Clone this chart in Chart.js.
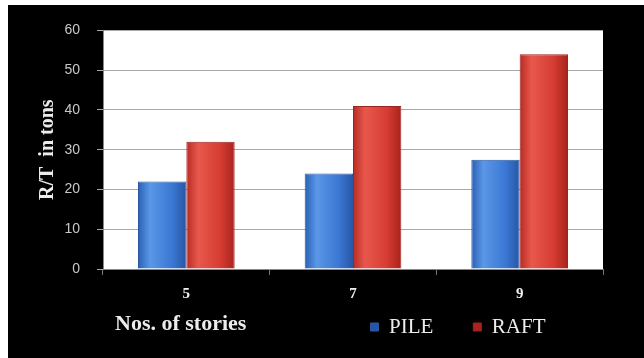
<!DOCTYPE html>
<html>
<head>
<meta charset="utf-8">
<script src="https://cdn.jsdelivr.net/npm/chart.js@4"></script>
<style>
  html, body { margin: 0; padding: 0; background: #fff; }
  #wrap { position: absolute; left: 8px; top: 5px; width: 636px; height: 353px; background: #000; }
</style>
</head>
<body>
<div id="wrap"><canvas id="storyChart"></canvas></div>
<script>
var stories = ['5', '7', '9'];
var pileValues = [22, 24, 27.5];
var raftValues = [32, 41, 54];
var yTicks = [0, 10, 20, 30, 40, 50, 60];

var serif = "Liberation Serif";
var legendFontSize = 21;

Chart.defaults.font.family = serif;

// left-to-right shading so the bars look rounded
function shade(stops) {
    return function (c) {
        var el = c.element;
        if (!el || !el.width) return stops[1];
        var g = c.chart.ctx.createLinearGradient(el.x - el.width / 2, 0, el.x + el.width / 2, 0);
        g.addColorStop(0, stops[0]);
        g.addColorStop(0.25, stops[1]);
        g.addColorStop(0.7, stops[2]);
        g.addColorStop(1, stops[3]);
        return g;
    };
}

var plotBackground = {
    id: 'plotBackground',
    beforeDraw: function (chart) {
        var a = chart.chartArea, ctx = chart.ctx;
        ctx.save();
        ctx.fillStyle = '#ffffff';
        ctx.fillRect(a.left, a.top, a.right - a.left, a.bottom - a.top);
        ctx.restore();
    }
};

// axis caption sits on the same row as the legend, near the left
var storyCaption = {
    id: 'storyCaption',
    afterDraw: function (chart) {
        var a = chart.chartArea, ctx = chart.ctx;
        ctx.save();
        ctx.font = 'bold 22px ' + serif;
        ctx.fillStyle = '#ececec';
        ctx.textBaseline = 'middle';
        ctx.fillText('Nos. of stories', a.left + 12, 319);
        ctx.restore();
    }
};

// put the legend row to the right of the caption
var legendPlace = {
    id: 'legendPlace',
    afterLayout: function (chart) {
        var lg = chart.legend;
        var shift = 450 - (lg.left + lg.right) / 2;
        lg.left += shift;
        lg.right += shift;
        lg.top = 322 - lg.options.labels.padding - legendFontSize / 2;
        lg.bottom = chart.height;
    }
};

var ctx = document.getElementById('storyChart').getContext('2d');
var chart = new Chart(ctx, {
    type: 'bar',
    data: {
        labels: stories,
        datasets: [{
            label: 'PILE',
            data: pileValues,
            backgroundColor: shade(['#2a5fb4', '#5a97e6', '#3b78d4', '#2756a6']),
            borderColor: '#2a58a0',
            borderWidth: 1
        }, {
            label: 'RAFT',
            data: raftValues,
            backgroundColor: shade(['#b82a24', '#e8584c', '#d63c32', '#a8231d']),
            borderColor: '#9c2420',
            borderWidth: 1
        }]
    },
    options: {
        responsive: true,
        maintainAspectRatio: false,
        animation: false,
        layout: { padding: { left: 24, right: 41, top: 20, bottom: 0 } },
        datasets: { bar: { categoryPercentage: 0.58, barPercentage: 1 } },
        scales: {
            x: {
                grid: { offset: true, drawOnChartArea: false, tickLength: 6, color: '#777' },
                border: { color: '#888' },
                ticks: { color: '#f0f0f0', padding: 10, font: { family: serif, size: 15, weight: 'bold' } }
            },
            y: {
                min: 0,
                max: 60,
                afterBuildTicks: function (axis) {
                    axis.ticks = yTicks.map(function (v) { return { value: v }; });
                },
                afterFit: function (axis) { axis.width = 71; },
                grid: { color: '#a8a8a8', tickLength: 6 },
                border: { color: '#888' },
                ticks: { color: '#c8c8c8', padding: 17, font: { family: 'Liberation Sans Narrow, Liberation Sans, sans-serif', size: 14 } },
                title: {
                    display: true,
                    text: 'R/T  in tons',
                    color: '#ececec',
                    padding: { top: 4, bottom: 8 },
                    font: { family: serif, size: 20, weight: 'bold' }
                }
            }
        },
        plugins: {
            legend: {
                position: 'bottom',
                maxHeight: 45,
                labels: {
                    color: '#ececec',
                    boxWidth: 8,
                    boxHeight: 8,
                    padding: 40,
                    font: function () {
                        return { family: serif, size: legendFontSize, weight: 'normal' };
                    }
                }
            },
            tooltip: { enabled: false }
        }
    },
    plugins: [plotBackground, storyCaption, legendPlace]
});
// second pass so the shading can use the laid-out bar geometry
chart.update();
</script>
</body>
</html>
